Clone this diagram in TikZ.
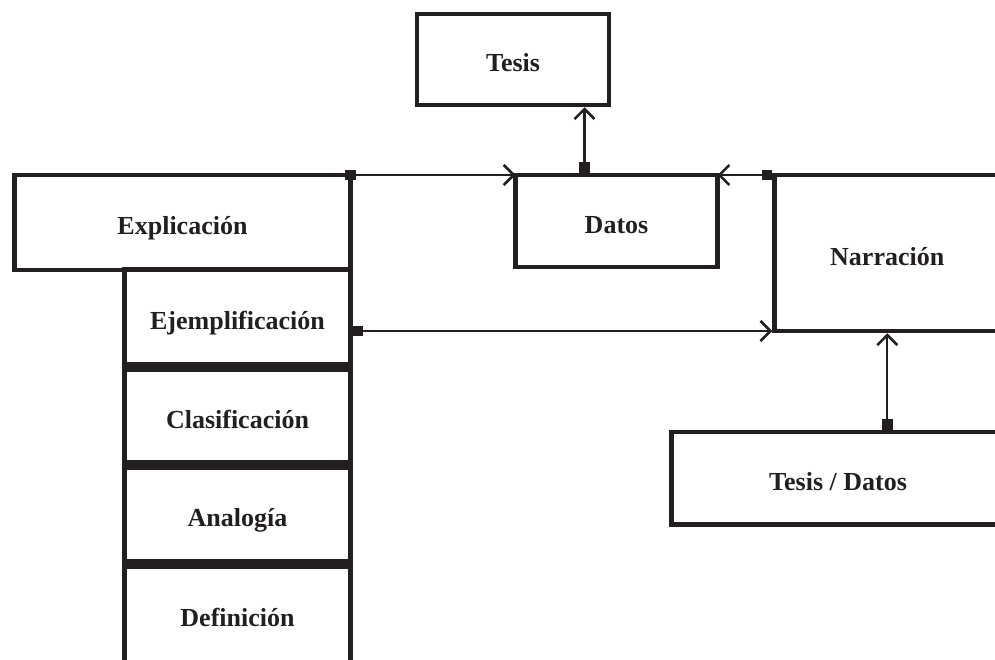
\documentclass[tikz,border=0pt]{standalone}
\usepackage{fontspec}
\setmainfont{Liberation Serif}
\usetikzlibrary{arrows.meta}
\definecolor{ink}{HTML}{231F20}
\begin{document}
\begin{tikzpicture}[x=1pt,y=-1pt,
  box/.style={draw=ink, line width=4.5pt, outer sep=0pt, inner sep=0pt,
    text=ink, text height=24pt, text depth=0pt,
    font=\fontsize{26}{30}\selectfont\bfseries},
  conn/.style={draw=ink, line width=2.2pt,
    -{Straight Barb[length=10pt,width=20pt,line width=2.6pt]}},
  sqmark/.style={fill=ink, minimum size=10.5pt, inner sep=0pt, outer sep=0pt}]
\useasboundingbox (0,0) rectangle (995,659);
\clip (0,0) rectangle (995,659);

% boxes
\node[box, minimum width=192pt, minimum height=91pt]  (tesis) at (513,59.5)   {Tesis};
\node[box, minimum width=202pt, minimum height=92pt]  (datos) at (616.5,221)  {Datos};
\node[box, minimum width=336pt, minimum height=95pt]  (expl)  at (182.5,222.5){Explicación};
\node[box, minimum width=226pt, minimum height=95pt]  (ejem)  at (237.5,317)  {Ejemplificación};
\node[box, minimum width=226pt, minimum height=93pt]  (clas)  at (237.5,416)  {Clasificación};
\node[box, minimum width=226pt, minimum height=94pt]  (anal)  at (237.5,514.5){Analogía};
\node[box, minimum width=226pt, minimum height=96.5pt](defi)  at (237.5,614.75){Definición};
\node[box, minimum width=225.5pt, minimum height=156pt](narr) at (887.25,253) {Narración};
\node[box, minimum width=333pt, minimum height=92.5pt] (td)   at (838,478.25) {Tesis / Datos};

% connectors
\draw[conn] (expl.north east) -- (datos.north west);
\node[sqmark] (m1) at (expl.north east) {};

\coordinate (dt) at ([xshift=69pt]datos.north west);
\coordinate (tb) at (dt |- tesis.south);
\draw[conn] (dt) -- ([yshift=-2.25pt]tb);
\node[sqmark, anchor=south] (m2) at ([yshift=2.25pt]dt) {};

\draw[conn] (narr.north west) -- (datos.north east);
\node[sqmark, anchor=east] (m3) at ([xshift=-2.25pt]narr.north west) {};

\coordinate (ej) at (ejem.east |- narr.south west);
\draw[conn] (ej) -- ([xshift=-2.25pt]narr.south west);
\node[sqmark, anchor=west] (m4) at ([xshift=2.25pt]ej) {};

\coordinate (tn) at (narr.south |- td.north);
\draw[conn] (tn) -- ([yshift=-2.25pt]narr.south);
\node[sqmark, anchor=south] (m5) at ([yshift=2.25pt]tn) {};
\end{tikzpicture}
\end{document}
